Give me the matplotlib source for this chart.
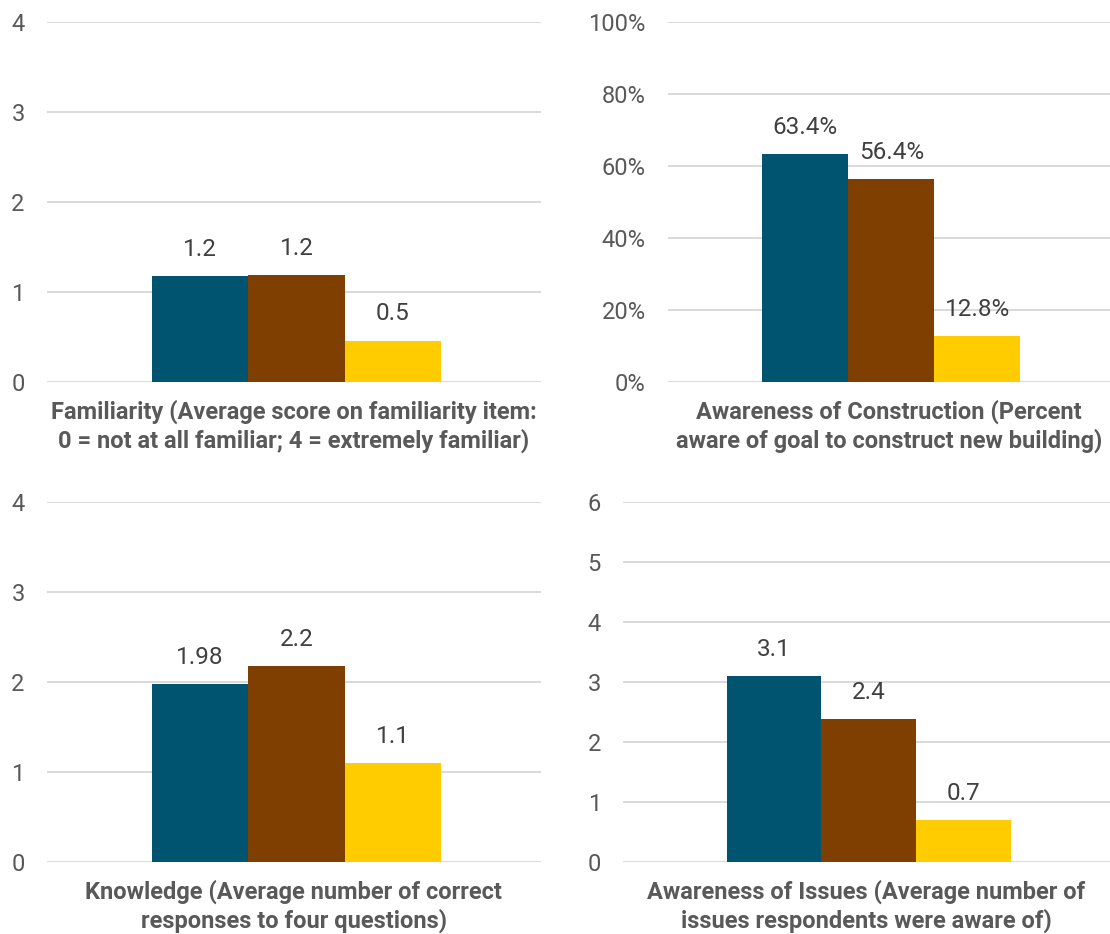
import matplotlib
matplotlib.use('Agg')
import matplotlib.pyplot as plt
from matplotlib.ticker import PercentFormatter

plt.rcParams['font.family'] = ['Roboto', 'DejaVu Sans']

# survey results, one panel each (three groups per panel)
colors = ['#00546f', '#7f3f00', '#ffcc00']

familiarity = [1.18, 1.19, 0.46]
familiarity_labels = ['1.2', '1.2', '0.5']

construction = [63.4, 56.4, 12.8]
construction_labels = ['63.4%', '56.4%', '12.8%']

knowledge = [1.98, 2.18, 1.1]
knowledge_labels = ['1.98', '2.2', '1.1']

issues = [3.1, 2.38, 0.7]
issues_labels = ['3.1', '2.4', '0.7']

titles = [
    'Familiarity (Average score on familiarity item:\n0 = not at all familiar; 4 = extremely familiar)',
    'Awareness of Construction (Percent\naware of goal to construct new building)',
    'Knowledge (Average number of correct\nresponses to four questions)',
    'Awareness of Issues (Average number of\nissues respondents were aware of)',
]

fig = plt.figure(figsize=(11.1, 9.34), dpi=100)

# axes rectangles in figure fractions (left, bottom, width, height)
rects = [
    (0.0423, 0.591, 0.4450, 0.3854),
    (0.6018, 0.591, 0.3982, 0.3854),
    (0.0423, 0.0771, 0.4450, 0.3854),
    (0.5613, 0.0771, 0.4387, 0.3854),
]

panels = [
    (familiarity, familiarity_labels, 4, 1, False),
    (construction, construction_labels, 100, 20, True),
    (knowledge, knowledge_labels, 4, 1, False),
    (issues, issues_labels, 6, 1, False),
]

width = 0.195
for rect, (vals, labels, ymax, step, pct), title in zip(rects, panels, titles):
    ax = fig.add_axes(rect)
    xs = [(i - 1) * width + 0.005 for i in range(3)]
    bars = ax.bar(xs, vals, width=width, color=colors, zorder=3)
    ax.bar_label(bars, labels=labels, padding=11, fontsize=17.5, color='#404040')
    ax.set_xlim(-0.5, 0.5)
    ax.set_ylim(0, ymax)
    ax.set_yticks(range(0, ymax + 1, step))
    if pct:
        ax.yaxis.set_major_formatter(PercentFormatter(decimals=0))
    ax.grid(axis='y', color='#d9d9d9', linewidth=1.4, zorder=0)
    ax.set_xticks([])
    for s in ax.spines.values():
        s.set_visible(False)
    ax.tick_params(axis='y', length=0, pad=16, labelsize=17, labelcolor='#595959')
    ax.set_xlabel(title, fontsize=17, fontweight='bold', color='#595959',
                  labelpad=13, linespacing=1.2)

fig.savefig('out.png', dpi=100)
